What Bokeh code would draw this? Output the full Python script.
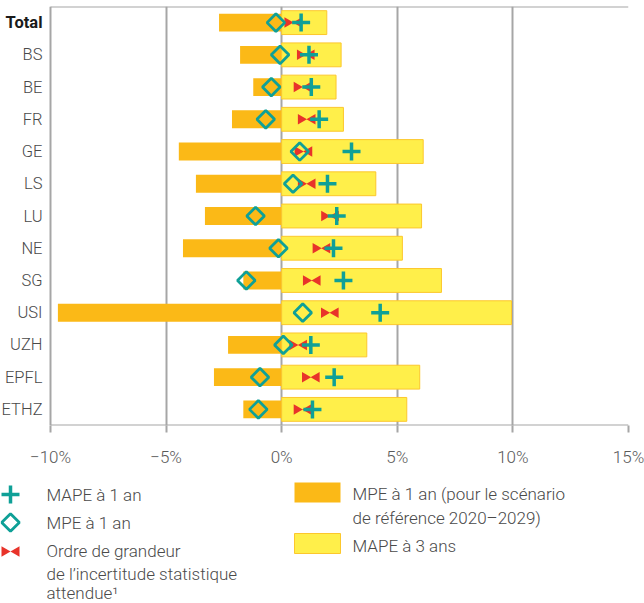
import math
from bokeh.plotting import figure
from bokeh.models import Range1d, FixedTicker, ColumnDataSource
from bokeh.transform import dodge
from bokeh.embed import file_html
from bokeh.resources import INLINE
from bokeh.core.properties import value

# ---------------- data ----------------
categories = ["Total", "BS", "BE", "FR", "GE", "LS", "LU", "NE", "SG", "USI", "UZH", "EPFL", "ETHZ"]
mpe_ref_scenario = [-2.71, -1.80, -1.23, -2.15, -4.45, -3.71, -3.32, -4.27, -1.66, -9.68, -2.32, -2.93, -1.66]
mape_3y = [1.95, 2.57, 2.35, 2.67, 6.12, 4.07, 6.05, 5.22, 6.91, 9.94, 3.68, 5.97, 5.41]
mpe_1y = [-0.25, -0.07, -0.45, -0.69, 0.78, 0.49, -1.13, -0.14, -1.53, 0.91, 0.07, -0.94, -1.01]
uncertainty = [0.50, 1.04, 0.90, 1.08, 0.94, 1.08, 2.09, 1.72, 1.30, 2.08, 0.71, 1.26, 0.90]
mape_1y = [0.84, 1.18, 1.28, 1.62, 3.02, 1.98, 2.38, 2.24, 2.67, 4.26, 1.26, 2.27, 1.33]
xticks = [-10, -5, 0, 5, 10, 15]
xtick_labels = ["\u221210%", "\u22125%", "0%", "5%", "10%", "15%"]

legend_left = ["MAPE à 1 an", "MPE à 1 an", "Ordre de grandeur",
               "de l\u2019incertitude statistique", "attendue\u00b9"]
legend_right = ["MPE à 1 an (pour le scénario", "de référence 2020\u20132029)", "MAPE à 3 ans"]

# ---------------- styles ----------------
TEAL = "#0FA097"
RED = "#E8332A"
ORANGE = "#FBB917"
YELLOW = "#FFEF4A"
YELLOW_EDGE = "#FCC72C"
GRID = "#A6A6A6"
TXT = "#4A4A4A"
FONT = "Roboto Light, Roboto"
FONT_BOLD = "Roboto"

W, H = 644, 469
B_TOP, B_BOTTOM, B_RIGHT = 6, 40, 16
LABEL_PAD = 50          # pixels reserved left of the -10% line for category labels
frame_w = W - B_RIGHT
span = xticks[-1] - xticks[0]
x_start = xticks[0] - LABEL_PAD * span / (frame_w - LABEL_PAD)

n = len(categories)
ypos = [n - 1 - i for i in range(n)]
styles = ["bold" if i == 0 else "normal" for i in range(n)]
lfonts = [FONT_BOLD if i == 0 else FONT for i in range(n)]
lcolors = ["#1A1A1A" if i == 0 else TXT for i in range(n)]

src = ColumnDataSource(dict(y=ypos, cat=categories, mpe_ref=mpe_ref_scenario, mape3=mape_3y,
                            mpe1=mpe_1y, unc=uncertainty, mape1=mape_1y,
                            lx=[xticks[0]] * n, style=styles, lfont=lfonts, lcol=lcolors))

p = figure(width=W, height=H, x_range=Range1d(x_start, xticks[-1]),
           y_range=Range1d(-0.5, n - 0.5), y_axis_type=None,
           output_backend="svg", toolbar_location=None,
           min_border_left=0, min_border_right=B_RIGHT, min_border_top=B_TOP,
           min_border_bottom=B_BOTTOM)
p.outline_line_color = None
p.background_fill_color = "white"
p.border_fill_color = "white"

p.ygrid.visible = False
p.xgrid.ticker = FixedTicker(ticks=xticks)
p.xgrid.grid_line_color = GRID
p.xgrid.grid_line_width = 2

xa = p.xaxis[0]
xa.ticker = FixedTicker(ticks=xticks)
xa.major_label_overrides = {t: l for t, l in zip(xticks, xtick_labels)}
xa.axis_line_color = None
xa.major_tick_line_color = GRID
xa.major_tick_line_width = 2
xa.major_tick_out = 7
xa.major_tick_in = 0
xa.minor_tick_line_color = None
xa.major_label_standoff = 14
xa.major_label_text_font = FONT
xa.major_label_text_font_size = "17px"
xa.major_label_text_color = "#5A5A5A"

# top and bottom edges of the plotting box
p.segment(x0=[xticks[0]] * 2, x1=[xticks[-1]] * 2, y0=[n - 0.5, -0.5], y1=[n - 0.5, -0.5],
          line_color=GRID, line_width=2)

# category labels
p.text(x="lx", y="y", text="cat", x_offset=-8, text_align="right", text_baseline="middle",
       text_font="lfont", text_font_size="16.5px", text_font_style="style",
       text_color="lcol", source=src)

p.hbar(y="y", left=0, right="mpe_ref", height=0.555, fill_color=ORANGE, line_color=None, source=src)
p.hbar(y="y", left=0, right="mape3", height=0.74, fill_color=YELLOW, line_color=YELLOW_EDGE,
       line_width=1, source=src)

p.scatter(x=dodge("unc", -0.25), y="y", marker="triangle", size=10.5, angle=-math.pi / 2,
          fill_color=RED, line_color=None, source=src)
p.scatter(x=dodge("unc", 0.25), y="y", marker="triangle", size=10.5, angle=math.pi / 2,
          fill_color=RED, line_color=None, source=src)
p.scatter(x="mpe1", y="y", marker="square", angle=math.pi / 4, size=12.5, fill_alpha=0,
          line_color=TEAL, line_width=2.8, source=src)
p.scatter(x="mape1", y="y", marker="cross", size=18, line_color=TEAL, line_width=3.5, source=src)

# ---------------- legend ----------------
LW, LH = 644, 134
lg = figure(width=LW, height=LH, x_range=Range1d(0, LW), y_range=Range1d(LH, 0),
            x_axis_type=None, y_axis_type=None, output_backend="svg", toolbar_location=None,
            min_border=0)
lg.outline_line_color = None
lg.grid.visible = False

mx = 10
lg.scatter(x=[mx], y=[25], marker="cross", size=18, line_color=TEAL, line_width=3.5)
lg.scatter(x=[mx], y=[53], marker="square", angle=math.pi / 4, size=12.5, fill_alpha=0,
           line_color=TEAL, line_width=2.8)
lg.scatter(x=[mx - 6], y=[82], marker="triangle", size=10.5, angle=-math.pi / 2,
           fill_color=RED, line_color=None)
lg.scatter(x=[mx + 6], y=[82], marker="triangle", size=10.5, angle=math.pi / 2,
           fill_color=RED, line_color=None)
lg.text(x=[46] * 5, y=[25, 53, 81.5, 104, 123.5], text=legend_left, text_font=value(FONT),
        text_font_size="17px", text_color=TXT, text_baseline="middle")

lg.rect(x=[317], y=[23], width=46, height=20, fill_color=ORANGE, line_color=None)
lg.rect(x=[317], y=[74], width=46, height=20, fill_color=YELLOW, line_color=YELLOW_EDGE,
        line_width=1)
lg.text(x=[352] * 3, y=[24, 48, 76], text=legend_right, text_font=value(FONT),
        text_font_size="17px", text_color=TXT, text_baseline="middle")

open("out.html", "w").write(file_html([p, lg], INLINE))
